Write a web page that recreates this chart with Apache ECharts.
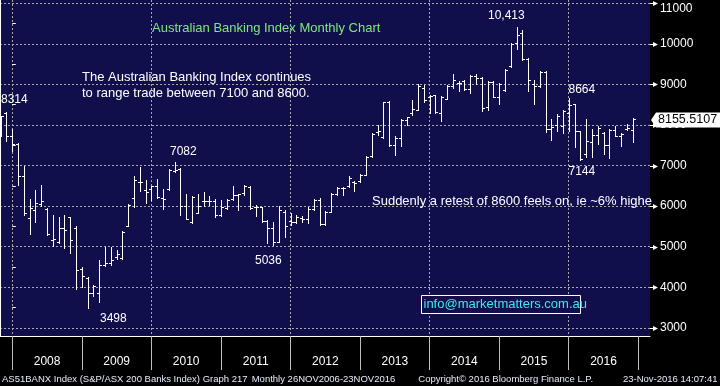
<!DOCTYPE html>
<html>
<head>
<meta charset="utf-8">
<script src="https://cdn.jsdelivr.net/npm/echarts@6/dist/echarts.min.js"></script>
<style>
html,body{margin:0;padding:0;background:#000;}
#c{width:720px;height:386px;}
</style>
</head>
<body>
<div id="c"></div>
<script>
// ---- data (monthly OHLC, S&P/ASX 200 Banks Index) ----
const months = [
 '2007-10','2007-11','2007-12',
 '2008-01','2008-02','2008-03','2008-04','2008-05','2008-06','2008-07','2008-08','2008-09','2008-10','2008-11','2008-12',
 '2009-01','2009-02','2009-03','2009-04','2009-05','2009-06','2009-07','2009-08','2009-09','2009-10','2009-11','2009-12',
 '2010-01','2010-02','2010-03','2010-04','2010-05','2010-06','2010-07','2010-08','2010-09','2010-10','2010-11','2010-12',
 '2011-01','2011-02','2011-03','2011-04','2011-05','2011-06','2011-07','2011-08','2011-09','2011-10','2011-11','2011-12',
 '2012-01','2012-02','2012-03','2012-04','2012-05','2012-06','2012-07','2012-08','2012-09','2012-10','2012-11','2012-12',
 '2013-01','2013-02','2013-03','2013-04','2013-05','2013-06','2013-07','2013-08','2013-09','2013-10','2013-11','2013-12',
 '2014-01','2014-02','2014-03','2014-04','2014-05','2014-06','2014-07','2014-08','2014-09','2014-10','2014-11','2014-12',
 '2015-01','2015-02','2015-03','2015-04','2015-05','2015-06','2015-07','2015-08','2015-09','2015-10','2015-11','2015-12',
 '2016-01','2016-02','2016-03','2016-04','2016-05','2016-06','2016-07','2016-08','2016-09','2016-10','2016-11'
];
const opens = [
 7790,8300,7734,
 7530,6750,5700,5895,6050,5936,5160,5120,5454,5732,5454,4450,
 4230,3870,3850,4560,4600,4750,4730,5510,6200,6600,6400,6430,
 6490,6205,6426,6860,6918,6000,5600,5840,6120,6120,6116,5785,
 5950,6174,6280,6320,6470,5990,5975,5640,5450,5125,5850,5645,
 5596,5700,5680,5926,6150,5548,5860,6309,6448,6490,6587,6611,
 6775,7225,7815,7701,8575,7497,7670,8120,8290,8370,8910,8700,
 8745,8294,8647,8967,9032,9073,8880,9200,9150,8450,9050,8700,
 8860,9460,10033,10279,9623,9022,8956,9311,7910,7992,7968,8300,
 8512,7852,7276,7580,7745,7803,7498,7885,7720,7910,7869
];
const highs = [
 8230,8314,7897,
 7560,6990,6181,6402,6524,5945,5781,5724,5773,5740,5503,4500,
 4250,4057,4674,4990,4980,4920,5385,6050,6738,6967,6656,6508,
 6672,6426,6918,7082,6950,6287,6246,6287,6344,6246,6174,6157,
 6174,6504,6310,6529,6488,6033,5990,5660,5596,5992,5910,5827,
 5786,5745,5976,6174,6202,5875,6325,6472,6472,6750,6611,6791,
 7241,7798,8000,8575,8590,7717,8141,8207,8616,9008,8992,8745,
 8750,8704,8992,9262,9073,9098,9237,9250,9187,9090,9090,9032,
 9377,10016,10413,10344,9640,9121,9336,9330,8157,8280,8363,8664,
 8520,7860,8157,7910,7968,7828,7910,7968,7803,8017,8180
];
const lows = [
 7720,7595,7350,
 6516,5790,5324,5609,6000,5283,5021,5100,4972,4833,3959,4000,
 3498,3796,3648,4526,4560,4700,4700,5510,5983,6369,6082,6160,
 6205,5934,6400,6836,5770,5688,5580,5820,6000,6016,5728,5760,
 5926,6157,5910,6280,5926,5760,5620,5100,5036,5125,5232,5538,
 5580,5596,5580,5910,5530,5530,5850,6284,6284,6472,6366,6600,
 6760,7210,7757,7675,7470,7268,7487,8000,8247,8370,8575,8294,
 8294,8090,8639,8909,8827,8868,8780,9000,8352,8376,8688,8524,
 8827,9440,9869,9606,8841,8528,8940,7828,7638,7852,7803,7852,
 7457,7144,7210,7210,7523,7276,7193,7720,7473,7869,7580
];
const closes = [
 8225,7734,7530,
 6753,5830,5961,6083,6116,5324,5185,5454,5420,5176,4433,4286,
 3853,4030,4560,4600,4680,4810,5370,6030,6650,6600,6340,6500,
 6220,6180,6900,6900,6000,5690,6230,6000,6120,6120,5785,5990,
 6140,6280,6290,6490,5950,5990,5637,5450,5125,5893,5500,5596,
 5728,5678,5926,6140,5560,5850,6309,6448,6440,6693,6570,6775,
 7208,7781,7840,8560,7497,7675,8120,8190,8386,8967,8622,8720,
 8310,8688,8967,9114,9032,8880,9213,9150,8430,9060,8700,9016,
 9360,10000,10221,9623,9104,8956,9311,7910,7950,8215,8347,8500,
 7852,7160,7605,7745,7935,7498,7885,7730,7786,7930,8155.5107
];
const lastPrice = 8155.5107;
const yearLabels = ['2008','2009','2010','2011','2012','2013','2014','2015','2016'];
const yTickValues = [3000,4000,5000,6000,7000,8000,9000,10000,11000];

// month-end position in months counted from the start of 2008
function monthPos(s){ const p = s.split('-'); return (+p[0]-2008)*12 + (+p[1]-1) + 1; }
const ohlc = months.map((m,i)=>[monthPos(m), opens[i], highs[i], lows[i], closes[i]]);

const NAVY = '#110f4b';
const FONT = '"Liberation Sans", Arial, sans-serif';
const XMIN = -2.12, XMAX = 110;

const chart = echarts.init(document.getElementById('c'), null, {renderer:'canvas'});

function txt(x, y, text, color, size, extra){
  return Object.assign({type:'text', x:x, y:y, z:50, silent:true,
    style:{text:text, fill:color, fontSize:size, fontFamily:FONT, align:'left', verticalAlign:'middle'}}, extra||{});
}

const option = {
  backgroundColor:'#000',
  animation:false,
  grid:[
    {left:0, top:0, width:650, height:336, show:true, backgroundColor:NAVY, borderWidth:0},
    {left:12.3, top:0, width:626, height:336, show:false},
    {left:0, top:3.3, width:650, height:324.5, show:false}
  ],
  xAxis:[
    {gridIndex:0, type:'value', min:0, max:1, axisLine:{show:true, onZero:false, lineStyle:{color:'#fff', width:1}},
     axisTick:{show:false}, axisLabel:{show:false}, splitLine:{show:false}},
    {gridIndex:1, type:'category', data:yearLabels, boundaryGap:true,
     axisLine:{show:false},
     axisTick:{show:true, interval:0, length:34, lineStyle:{color:'#bdbdbd', width:1}},
     axisLabel:{show:true, interval:0, color:'#fff', fontSize:12, fontFamily:FONT, margin:19.5},
     splitLine:{show:true, interval:0, lineStyle:{color:['#a9a9a9','rgba(0,0,0,0)'], type:[2,2], width:1}}},
    {gridIndex:2, type:'value', min:XMIN, max:XMAX, show:false}
  ],
  yAxis:[
    {gridIndex:0, type:'value', position:'right', min:0, max:1, axisLine:{show:true, lineStyle:{color:'#fff', width:1}},
     axisTick:{show:false}, axisLabel:{show:false}, splitLine:{show:false}},
    {gridIndex:1, type:'value', show:false},
    {gridIndex:2, type:'value', position:'right', min:3000, max:11000, interval:1000,
     axisLine:{show:false}, axisTick:{show:false},
     minorTick:{show:true, splitNumber:2, length:3.5, lineStyle:{color:'#fff', width:1}},
     axisLabel:{show:true, color:'#fff', fontSize:12, fontFamily:FONT, margin:10,
       formatter:function(v){ return v===11000 ? '{t|'+v+'}' : String(v); },
       rich:{t:{color:'#fff', fontSize:12, fontFamily:FONT, padding:[10,0,0,0]}}},
     splitLine:{show:true, lineStyle:{color:'#a9a9a9', type:[2,2], width:1}}}
  ],
  series:[
    {
      type:'custom', name:'AS51BANX', xAxisIndex:2, yAxisIndex:2, clip:false, z:5,
      data:ohlc,
      renderItem:function(params, api){
        const t = api.value(0);
        const ph = api.coord([t, api.value(2)]);
        const pl = api.coord([t, api.value(3)]);
        const po = api.coord([t, api.value(1)]);
        const pc = api.coord([t, api.value(4)]);
        const c = Math.round(ph[0]);
        const x = c + 0.5;
        const yo = Math.round(po[1]) + 0.5, yc = Math.round(pc[1]) + 0.5;
        const st = {stroke:'#fff', lineWidth:1};
        return {type:'group', children:[
          {type:'line', shape:{x1:x, y1:Math.round(ph[1]), x2:x, y2:Math.round(pl[1])+1}, style:st},
          {type:'line', shape:{x1:c-2, y1:yo, x2:c+1, y2:yo}, style:st},
          {type:'line', shape:{x1:c, y1:yc, x2:c+3, y2:yc}, style:st}
        ]};
      }
    },
    {
      type:'custom', name:'yticks', xAxisIndex:2, yAxisIndex:2, clip:false, silent:true, z:6,
      data:yTickValues.map(v=>[XMAX, v]),
      renderItem:function(params, api){
        const p = api.coord([api.value(0), api.value(1)]);
        const x0 = Math.round(p[0]);
        const y = Math.round(p[1]) + 0.5;
        return {type:'polygon', shape:{points:[[x0,y-0.5],[x0+3,y-0.5],[x0+3,y-2.5],[x0+8,y],[x0+3,y+2.5],[x0+3,y+0.5],[x0,y+0.5]]},
                style:{fill:'#fff'}};
      }
    },
    {
      type:'custom', name:'last', xAxisIndex:2, yAxisIndex:2, clip:false, silent:true, z:20,
      data:[[XMAX, lastPrice]],
      renderItem:function(params, api){
        const p = api.coord([api.value(0), api.value(1)]);
        const x0 = Math.round(p[0]);
        const y = p[1] + 1.2;
        return {type:'group', children:[
          {type:'polygon', shape:{points:[[x0+1,y],[x0+6,y-7.5],[x0+72,y-7.5],[x0+72,y+7.5],[x0+6,y+7.5]]}, style:{fill:'#fff'}},
          {type:'text', x:x0+8, y:y, style:{text:api.value(1).toFixed(4), fill:'#000', fontSize:12.5, fontFamily:FONT, align:'left', verticalAlign:'middle'}}
        ]};
      }
    }
  ],
  graphic:[
    txt(152, 28, 'Australian Banking Index Monthly Chart', '#7ee87e', 13),
    txt(82, 77.5, 'The Australian Banking Index continues', '#ffffff', 13),
    txt(82, 93.5, 'to range trade between 7100 and 8600.', '#ffffff', 13),
    txt(1, 99.5, '8314', '#ffffff', 12),
    txt(170, 151.5, '7082', '#ffffff', 12),
    txt(488, 15.5, '10,413', '#ffffff', 12),
    txt(568.5, 90, '8664', '#ffffff', 12),
    txt(568.5, 172, '7144', '#ffffff', 12),
    txt(255, 260.5, '5036', '#ffffff', 12),
    txt(100, 318.5, '3498', '#ffffff', 12),
    txt(372, 201, 'Suddenly a retest of 8600 feels on, ie ~6% highe', '#ffffff', 13),
    {type:'rect', z:49, silent:true, shape:{x:421.5, y:295.5, width:159, height:18}, style:{fill:NAVY, stroke:'#ffffff', lineWidth:1}},
    txt(423.5, 304.5, 'info@marketmatters.com.au', '#3ce8f0', 13),
    txt(2, 379.5, 'AS51BANX Index (S&P/ASX 200 Banks Index) Graph 217', '#e4ecff', 9.5),
    txt(251.7, 379.5, 'Monthly 26NOV2006-23NOV2016', '#e4ecff', 9.5),
    txt(418.3, 379.5, 'Copyright\u00A9 2016 Bloomberg Finance L.P.', '#e4ecff', 9.5),
    Object.assign(txt(717.5, 379.5, '23-Nov-2016 14:07:41', '#e4ecff', 9.5), {}),
  ]
};
option.graphic[option.graphic.length-1].style.align = 'right';
chart.setOption(option);
</script>
</body>
</html>
